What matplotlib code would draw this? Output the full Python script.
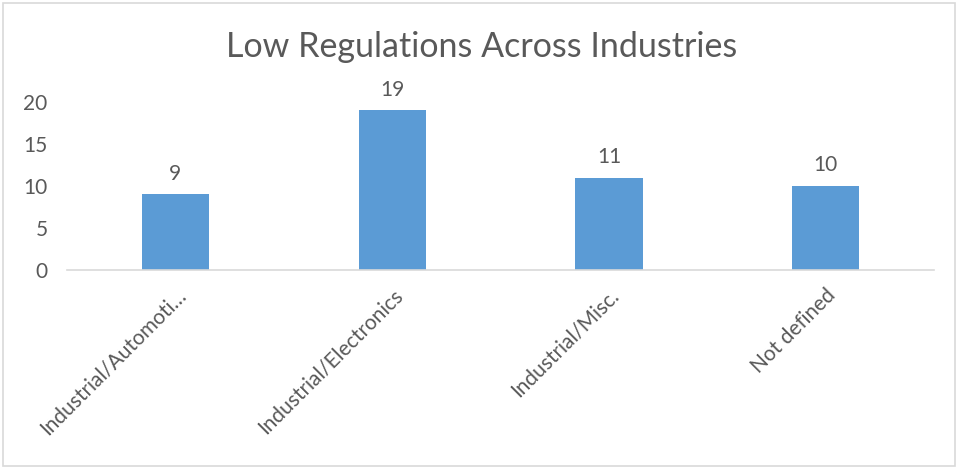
#!/usr/bin/env python3

import matplotlib
matplotlib.use("Agg")
import matplotlib.pyplot as plt
from matplotlib.patches import Rectangle

categories = ["Industrial/Automoti…", "Industrial/Electronics", "Industrial/Misc.", "Not defined"]
values = [9, 19, 11, 10]
yticks = [0, 5, 10, 15, 20]

text_color = "#595959"
bar_color = "#5B9BD5"

plt.rcParams["font.family"] = ["Lato", "DejaVu Sans"]

dpi = 100
fig = plt.figure(figsize=(963 / dpi, 470 / dpi), dpi=dpi)
ax = fig.add_axes([0.0696, 0.4255, 0.9004, 0.3574])

x = list(range(len(categories)))
ax.bar(x, values, width=0.31, color=bar_color, zorder=2)

for xi, v in zip(x, values):
    ax.text(xi, v + 1.3, str(v), ha="center", va="bottom", fontsize=15, color=text_color)

ax.set_xlim(-0.5, len(categories) - 0.5)
ax.set_ylim(0, 20)
ax.set_yticks(yticks)
ax.set_yticklabels([str(t) for t in yticks], fontsize=15, color=text_color)
ax.set_xticks(x)
ax.set_xticklabels(categories, rotation=45, ha="right", rotation_mode="anchor",
                   fontsize=15, color=text_color)

for side in ["top", "right", "left"]:
    ax.spines[side].set_visible(False)
ax.spines["bottom"].set_color("#D9D9D9")
ax.spines["bottom"].set_linewidth(1.2)
ax.tick_params(axis="both", length=0)
ax.tick_params(axis="y", pad=14)
ax.tick_params(axis="x", pad=11)

fig.suptitle("Low Regulations Across Industries", y=0.935, fontsize=24.5, color=text_color)

fig.patches.append(Rectangle((3 / 963, 4 / 470), 952 / 963, 463 / 470, transform=fig.transFigure,
                             fill=False, edgecolor="#D9D9D9", linewidth=1.2))

fig.savefig("out.png", dpi=dpi)
